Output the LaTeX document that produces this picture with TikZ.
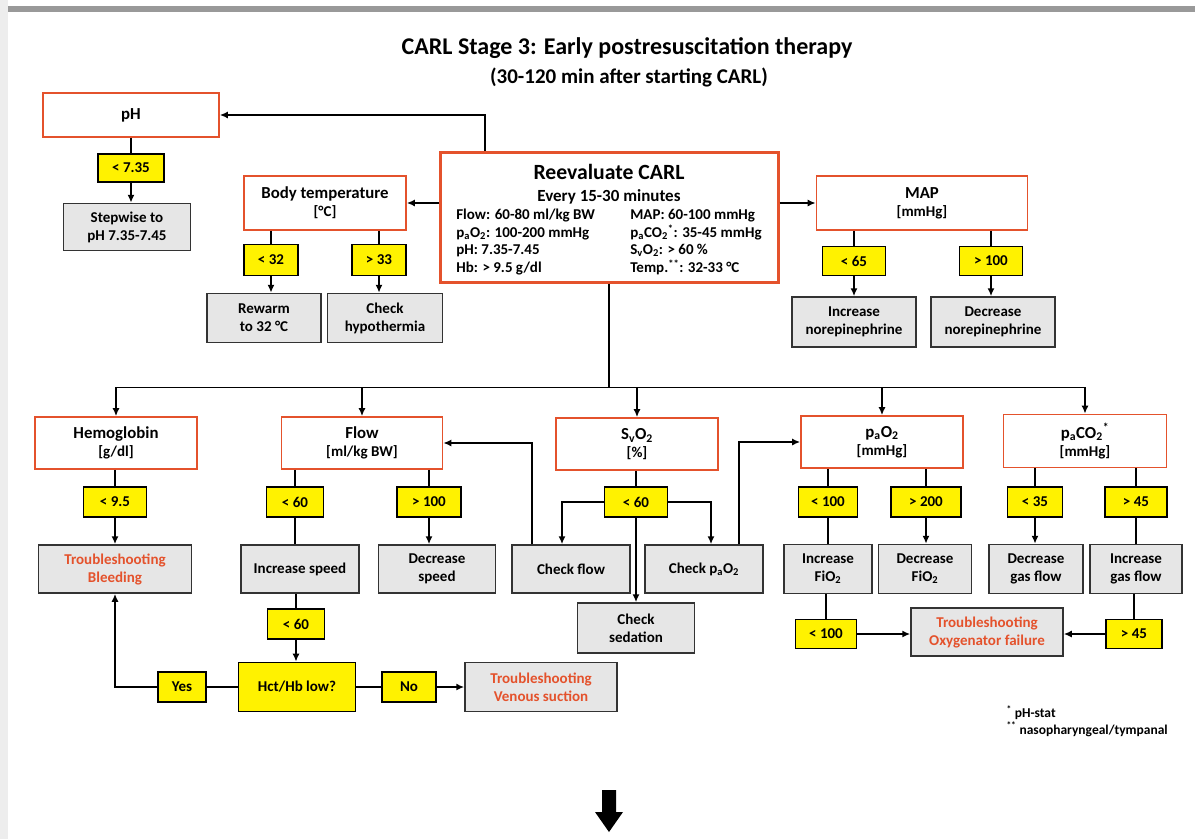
\documentclass[tikz,border=0pt]{standalone}
\usepackage{fontspec}
\setmainfont{Carlito}
\usetikzlibrary{arrows.meta}
\definecolor{carlred}{RGB}{228,82,44}
\definecolor{boxgray}{RGB}{230,230,230}
\newcommand{\paramhead}[1]{{\fontsize{16.8}{18}\selectfont #1}}

\begin{document}
\begin{tikzpicture}[
  x=1pt, y=-1pt,
  param/.style={
    rectangle,
    draw=carlred,
    line width=1.6pt,
    fill=white,
    align=center,
    inner sep=0pt,
    minimum height=52pt,
    font=\fontsize{15}{18}\selectfont\bfseries
  },
  cond/.style={
    rectangle,
    draw=black,
    line width=1.6pt,
    fill=yellow,
    inner sep=0pt,
    minimum height=30pt,
    font=\fontsize{15}{18}\selectfont\bfseries
  },
  action/.style={
    rectangle,
    draw=black!80,
    line width=1.5pt,
    fill=boxgray,
    align=center,
    inner sep=0pt,
    minimum height=48pt,
    font=\fontsize{15}{18}\selectfont\bfseries
  },
  trouble/.style={action, text=carlred},
  conn/.style={draw, line width=1.6pt},
  arr/.style={conn, -{Latex[length=8pt,width=7pt]}}]
  \useasboundingbox (0,0) rectangle (1195,839);
  % page frame
  \fill[black!7] (0,0) rectangle (8,839);
  \fill[black!40] (8,6) rectangle (1195,12);

  % title
  \node[font=\fontsize{24}{28}\selectfont\bfseries] (title) at (627,48) {CARL Stage 3: Early postresuscitation therapy};
  \node[font=\fontsize{21}{24}\selectfont\bfseries] (subtitle) at (629,77) {(30-120 min after starting CARL)};

  % central box
  \node[param, line width=3pt, minimum width=338pt, minimum height=130pt] (carl) at (609,217) {%
    \fontsize{15}{17.5}\selectfont
    \raisebox{-4pt}[\height][\depth]{%
    \begin{tabular}{@{}p{174pt}@{}l@{}}
      \multicolumn{2}{@{}c@{}}{\fontsize{21.7}{24}\selectfont Reevaluate CARL}\\[5pt]
      \multicolumn{2}{@{}c@{}}{\fontsize{17}{19}\selectfont Every 15-30 minutes}\\
      Flow: 60-80 ml/kg BW & MAP: 60-100 mmHg\\
      p\textsubscript{a}O\textsubscript{2}: 100-200 mmHg & p\textsubscript{a}CO\textsubscript{2}\textsuperscript{*}: 35-45 mmHg\\
      pH: 7.35-7.45 & S\textsubscript{v}O\textsubscript{2}: > 60 \%\\
      Hb: > 9.5 g/dl & Temp.\textsuperscript{**}: 32-33 °C
    \end{tabular}}};

  % upper row
  \node[param, minimum width=176pt, minimum height=44pt] (ph) at (131,115) {\paramhead{pH}};
  \node[cond, minimum width=66pt, minimum height=28pt] (phlo) at (131,168) {< 7.35};
  \node[action, minimum width=127pt, minimum height=47pt] (phact) at (127,227) {Stepwise to\\pH 7.35-7.45};

  \node[param, minimum width=162pt, minimum height=54pt] (temp) at (325,203) {\paramhead{Body temperature}\\{[°C]}};
  \node[cond, minimum width=54pt, minimum height=31pt] (templo) at (271,260) {< 32};
  \node[cond, minimum width=54pt, minimum height=31pt] (temphi) at (379,260) {> 33};
  \node[action, minimum width=114pt, minimum height=49pt] (rewarm) at (264,318) {Rewarm\\to 32 °C};
  \node[action, minimum width=115pt, minimum height=49pt] (hypo) at (385,318) {Check\\hypothermia};

  \node[param, minimum width=211pt, minimum height=54pt] (map) at (922,203) {\paramhead{MAP}\\{[mmHg]}};
  \node[cond, minimum width=63pt, minimum height=29pt] (maplo) at (854,261) {< 65};
  \node[cond, minimum width=63pt, minimum height=29pt] (maphi) at (991,261) {> 100};
  \node[action, minimum width=124pt, minimum height=50pt] (norinc) at (854,322) {Increase\\norepinephrine};
  \node[action, minimum width=124pt, minimum height=50pt] (nordec) at (993,322) {Decrease\\norepinephrine};

  % lower row
  \node[param, minimum width=162pt] (hemo) at (116,443) {\paramhead{Hemoglobin}\\{[g/dl]}};
  \node[cond, minimum width=63pt] (hemolo) at (115,502) {< 9.5};
  \node[trouble, minimum width=153pt] (bleed) at (115,569) {Troubleshooting\\Bleeding};

  \node[param, minimum width=161pt] (flow) at (362,443) {\paramhead{Flow}\\{[ml/kg BW]}};
  \node[cond, minimum width=57pt] (flowlo) at (295,502) {< 60};
  \node[cond, minimum width=64pt] (flowhi) at (429,502) {> 100};
  \node[action, minimum width=118pt] (speedinc) at (300,569) {Increase speed};
  \node[action, minimum width=117pt] (speeddec) at (437,569) {Decrease\\speed};
  \node[cond, minimum width=57pt] (flowlo2) at (296,624) {< 60};
  \node[cond, minimum width=117pt, minimum height=49pt] (hct) at (297,687) {Hct/Hb low?};
  \node[cond, minimum width=48pt] (yes) at (182,687) {Yes};
  \node[cond, minimum width=54pt] (no) at (409,687) {No};
  \node[trouble, minimum width=152pt, minimum height=49pt] (venous) at (541,687) {Troubleshooting\\Venous suction};

  \node[param, minimum width=162pt] (svo2) at (637,444) {\paramhead{S\textsubscript{v}O\textsubscript{2}}\\{[\%]}};
  \node[cond, minimum width=63pt] (svolo) at (636,502) {< 60};
  \node[action, minimum width=118pt] (chkflow) at (571,569) {Check flow};
  \node[action, minimum width=118pt] (chkpao) at (704,569) {Check p\textsubscript{a}O\textsubscript{2}};
  \node[action, minimum width=117pt, minimum height=50pt] (sedation) at (636,628) {Check\\sedation};

  \node[param, minimum width=162pt] (pao2) at (882,442) {\paramhead{p\textsubscript{a}O\textsubscript{2}}\\{[mmHg]}};
  \node[cond, minimum width=59pt] (paolo) at (828,502) {< 100};
  \node[cond, minimum width=70pt] (paohi) at (926,502) {> 200};
  \node[action, minimum width=88pt, minimum height=49pt] (fioinc) at (828,569) {Increase\\FiO\textsubscript{2}};
  \node[action, minimum width=93pt, minimum height=49pt] (fiodec) at (925,569) {Decrease\\FiO\textsubscript{2}};
  \node[cond, minimum width=61pt, minimum height=29pt] (paolo2) at (826,634) {< 100};
  \node[trouble, minimum width=152pt] (oxy) at (987,632) {Troubleshooting\\Oxygenator failure};

  \node[param, minimum width=163pt, minimum height=53pt] (paco2) at (1085,441) {\paramhead{p\textsubscript{a}CO\textsubscript{2}\textsuperscript{*}}\\{[mmHg]}};
  \node[cond, minimum width=55pt] (pacolo) at (1035,502) {< 35};
  \node[cond, minimum width=62pt] (pacohi) at (1136,502) {> 45};
  \node[action, minimum width=94pt, minimum height=49pt] (gasdec) at (1036,569) {Decrease\\gas flow};
  \node[action, minimum width=92pt, minimum height=49pt] (gasinc) at (1136,569) {Increase\\gas flow};
  \node[cond, minimum width=56pt, minimum height=29pt] (pacohi2) at (1134,634) {> 45};

  % footnotes
  \node[anchor=west, align=left, font=\fontsize{13.5}{16.5}\selectfont\bfseries] (notes) at (1003,721) {\textsuperscript{*} pH-stat\\\textsuperscript{**} nasopharyngeal/tympanal};

  % connectors, upper part
  \draw[arr] ([xshift=-124pt]carl.north) |- (ph);
  \draw[arr] (carl.west |- temp) -- (temp);
  \draw[arr] (carl.east |- map) -- (map);
  \draw[conn] (ph) -- (phlo);
  \draw[arr] (phlo) -- (phlo |- phact.north);
  \foreach \c/\a in {templo/rewarm, temphi/hypo} {
    \draw[conn] (\c |- temp.south) -- (\c);
    \draw[arr] (\c) -- (\c |- \a.north);
  }
  \foreach \c/\a in {maplo/norinc, maphi/nordec} {
    \draw[conn] (\c |- map.south) -- (\c);
    \draw[arr] (\c) -- (\c |- \a.north);
  }

  % bus
  \draw[conn] (carl.south) -- ++(0,104) coordinate (bus);
  \draw[arr] (bus) -| (hemo);
  \draw[arr] (bus) -| (paco2);
  \foreach \n in {flow,svo2,pao2}
    \draw[arr] (bus -| \n) -- (\n);

  % connectors, lower part
  \foreach \c/\p/\a in {hemolo/hemo/bleed, flowhi/flow/speeddec, paohi/pao2/fiodec, pacolo/paco2/gasdec} {
    \draw[conn] (\c |- \p.south) -- (\c);
    \draw[arr] (\c) -- (\c |- \a.north);
  }
  \draw[conn] (flowlo |- flow.south) -- (flowlo) -- (flowlo |- speedinc.north);
  \draw[conn] (flowlo2 |- speedinc.south) -- (flowlo2);
  \draw[arr] (flowlo2) -- (flowlo2 |- hct.north);
  \draw[conn] (hct) -- (yes);
  \draw[arr] (yes) -| (bleed);
  \draw[conn] (hct) -- (no);
  \draw[arr] (no) -- (venous);

  \draw[conn] (svolo |- svo2.south) -- (svolo);
  \draw[arr] (svolo) -| ([xshift=-9pt]chkflow.north);
  \draw[arr] (svolo) -| ([xshift=7pt]chkpao.north);
  \draw[arr] (svolo) -- (svolo |- sedation.north);
  \draw[arr] ([xshift=-39pt]chkflow.north) |- (flow);
  \draw[arr] ([xshift=35pt]chkpao.north) |- (pao2);

  \draw[conn] (paolo |- pao2.south) -- (paolo) -- (paolo |- fioinc.north);
  \draw[conn] (paolo2 |- fioinc.south) -- (paolo2);
  \draw[arr] (paolo2) -- (paolo2 -| oxy.west);
  \draw[conn] (pacohi |- paco2.south) -- (pacohi) -- (pacohi |- gasinc.north);
  \draw[conn] (pacohi2 |- gasinc.south) -- (pacohi2);
  \draw[arr] (pacohi2) -- (pacohi2 -| oxy.east);

  % next stage arrow
  \fill (602,790) -- (616,790) -- (616,812) -- (623,812) -- (609,832) -- (595,812) -- (602,812) -- cycle;
\end{tikzpicture}
\end{document}
